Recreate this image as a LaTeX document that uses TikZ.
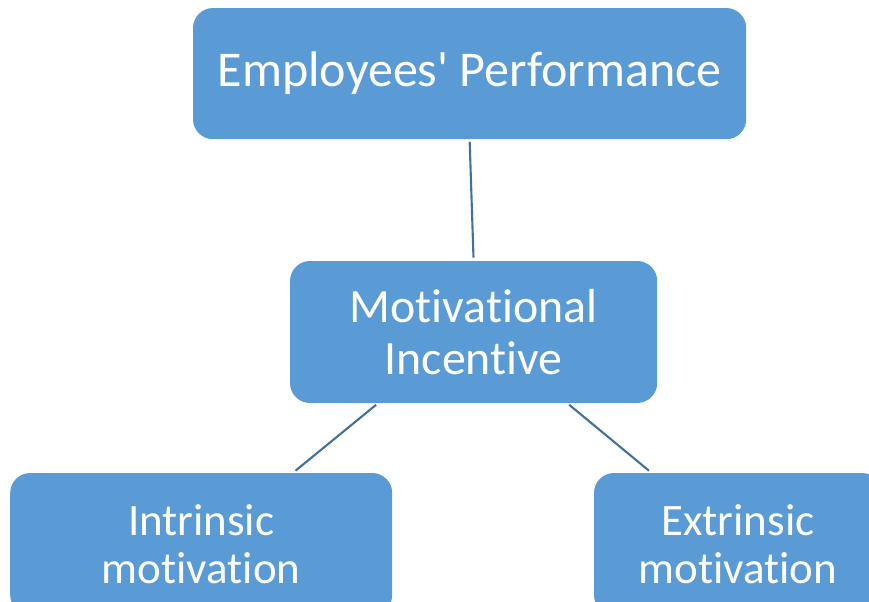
\documentclass[tikz,border=0pt]{standalone}
\usepackage{fontspec}
\setmainfont{Carlito}[Ligatures={NoCommon}]
\usetikzlibrary{calc}
\definecolor{boxblue}{HTML}{5B9BD5}
\definecolor{linkblue}{HTML}{41719C}
\tikzset{
  block/.style={rectangle, rounded corners=0.5cm, fill=boxblue, text=white, align=center, inner sep=0pt},
  topblock/.style={block, minimum width=13.83cm, minimum height=3.28cm, font=\fontsize{35.6}{40}\selectfont},
  midblock/.style={block, minimum width=9.18cm, minimum height=3.55cm, font=\fontsize{34}{37}\selectfont},
  leafblock/.style={block, minimum height=3.55cm, font=\fontsize{32}{34}\selectfont},
  link/.style={draw=linkblue, line width=1.5pt, shorten <=0.06cm, shorten >=0.08cm}
}

\begin{document}
\begin{tikzpicture}
  \useasboundingbox (0,0) rectangle (21.725,-15.025);
  \clip (0,0) rectangle (21.725,-15.025);

  \node[topblock] (perf) at (11.74,-1.84) {Employees\textquotesingle{} Performance};
  \node[midblock] (incent) at (11.84,-8.30) {Motivational\\Incentive};
  \node[leafblock, minimum width=9.55cm] (intr) at (5.03,-13.60) {Intrinsic\\motivation};
  \node[leafblock, minimum width=7.20cm] (extr) at (18.45,-13.60) {Extrinsic\\motivation};

  \draw[link] (perf.south) -- (incent.north);
  \draw[link] ($(incent.south west)!0.24!(incent.south east)$) -- ($(intr.north west)!0.74!(intr.north east)$);
  \draw[link] ($(incent.south west)!0.755!(incent.south east)$) -- ($(extr.north west)!0.20!(extr.north east)$);
\end{tikzpicture}
\end{document}
